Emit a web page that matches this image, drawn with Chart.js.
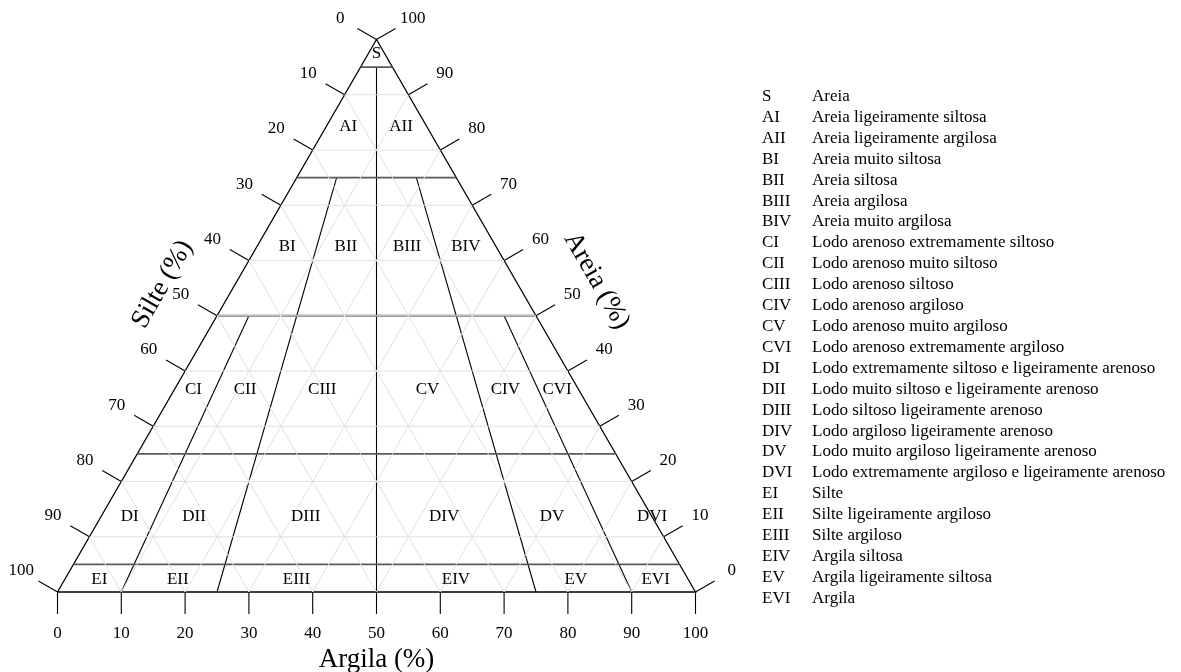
<!DOCTYPE html>
<html lang="pt">
<head>
<meta charset="UTF-8">
<title>Diagrama ternário - Argila, Silte, Areia</title>
<script src="https://cdn.jsdelivr.net/npm/chart.js"></script>
<style>
    body { margin: 0; background: #fff; }
    #wrap { position: relative; width: 1181px; height: 672px; }
    #legend {
        position: absolute; left: 762px; top: 86px;
        font-family: "Liberation Serif", "Times New Roman", serif;
        font-size: 17px; line-height: 20.9px; color: #000;
    }
    #legend .ab { display: inline-block; width: 50px; }
</style>
</head>
<body>
<div id="wrap">
    <canvas id="ternary" width="1181" height="672"></canvas>
    <div id="legend"></div>
</div>
<script>
// tick values on the three sides (%)
var tickValues = [0, 10, 20, 30, 40, 50, 60, 70, 80, 90, 100];
var gridSteps = [10, 20, 30, 40, 50, 60, 70, 80, 90];

// class limits: sand levels and clay/(silt+clay) ratios
var sandLimits = [95, 75, 50, 25, 5];
var clayRatios = [0.5, 0.25, 0.75, 0.1, 0.9];
var ratioTops  = [95, 75, 75, 50, 50];

// classes
var classCodes = ["S", "AI", "AII", "BI", "BII", "BIII", "BIV", "CI", "CII", "CIII", "CIV", "CV", "CVI",
    "DI", "DII", "DIII", "DIV", "DV", "DVI", "EI", "EII", "EIII", "EIV", "EV", "EVI"];
var classNames = ["Areia", "Areia ligeiramente siltosa", "Areia ligeiramente argilosa", "Areia muito siltosa",
    "Areia siltosa", "Areia argilosa", "Areia muito argilosa", "Lodo arenoso extremamente siltoso",
    "Lodo arenoso muito siltoso", "Lodo arenoso siltoso", "Lodo arenoso argiloso", "Lodo arenoso muito argiloso",
    "Lodo arenoso extremamente argiloso", "Lodo extremamente siltoso e ligeiramente arenoso",
    "Lodo muito siltoso e ligeiramente arenoso", "Lodo siltoso ligeiramente arenoso",
    "Lodo argiloso ligeiramente arenoso", "Lodo muito argiloso ligeiramente arenoso",
    "Lodo extremamente argiloso e ligeiramente arenoso", "Silte", "Silte ligeiramente argiloso",
    "Silte argiloso", "Argila siltosa", "Argila ligeiramente siltosa", "Argila"];
// where each code sits inside the triangle (sand %, clay %)
var labelSand = [97.4, 84.3, 84.3, 62.6, 62.6, 62.6, 62.6, 36.6, 36.6, 36.6, 36.6, 36.6, 36.6,
    13.6, 13.6, 13.6, 13.6, 13.6, 13.6, 2.3, 2.3, 2.3, 2.3, 2.3, 2.3];
var labelClay = [1.3, 3.4, 11.7, 4.7, 13.9, 23.5, 32.7, 3.0, 11.1, 23.2, 51.9, 39.7, 60.0,
    4.5, 14.6, 32.1, 53.8, 70.7, 86.4, 5.4, 17.7, 36.3, 61.3, 80.1, 92.6];

// ternary (sand, clay) -> cartesian
function pt(sand, clay) {
    return { x: clay + sand / 2, y: sand };
}

function lineSet(a, b, color, width) {
    return {
        data: [a, b], showLine: true, pointRadius: 0, borderColor: color,
        borderWidth: width, clip: false, fill: false
    };
}

var datasets = [];
gridSteps.forEach(function (k) {
    datasets.push(lineSet(pt(k, 0), pt(k, 100 - k), "#e0e0e0", 1));        // sand constant
    datasets.push(lineSet(pt(0, k), pt(100 - k, k), "#e0e0e0", 1));        // clay constant
    datasets.push(lineSet(pt(0, 100 - k), pt(100 - k, 0), "#e0e0e0", 1));  // silt constant
});
sandLimits.forEach(function (s) {
    datasets.push(lineSet(pt(s, 0), pt(s, 100 - s), "#5a5a5a", 1.8));
});
clayRatios.forEach(function (r, i) {
    var top = ratioTops[i];
    datasets.push(lineSet(pt(top, r * (100 - top)), pt(0, r * 100), "#000", 1.1));
});
datasets.push({
    data: [pt(0, 0), pt(0, 100), pt(100, 0), pt(0, 0)], showLine: true, pointRadius: 0,
    borderColor: "#000", borderWidth: 1.3, clip: false, fill: false
});

var serif = '"Liberation Serif", "Times New Roman", serif';
var c30 = Math.cos(Math.PI / 6), s30 = 0.5;

var decorations = {
    id: "decorations",
    afterDatasetsDraw: function (chart) {
        var ctx = chart.ctx;
        var xs = chart.scales.x, ys = chart.scales.y;
        function px(p) { return [xs.getPixelForValue(p.x), ys.getPixelForValue(p.y)]; }
        ctx.save();
        ctx.strokeStyle = "#000";
        ctx.lineWidth = 1.1;
        ctx.fillStyle = "#000";
        ctx.font = "17px " + serif;
        ctx.textAlign = "center";
        ctx.textBaseline = "middle";

        function tick(p, dx, dy, txt) {
            var q = px(p);
            ctx.beginPath();
            ctx.moveTo(q[0], q[1]);
            ctx.lineTo(q[0] + dx * 22, q[1] + dy * 22);
            ctx.stroke();
            ctx.fillText(txt, q[0] + dx * 42, q[1] + dy * 42);
        }
        tickValues.forEach(function (v) {
            tick(pt(100 - v, 0), -c30, -s30, String(v));   // Silte
            tick(pt(0, v), 0, 1, String(v));                 // Argila
            tick(pt(v, 100 - v), c30, -s30, String(v));     // Areia
        });

        // class codes
        classCodes.forEach(function (code, i) {
            var q = px(pt(labelSand[i], labelClay[i]));
            ctx.fillText(code, q[0], q[1]);
        });

        // axis titles
        ctx.font = "27px " + serif;
        var b = px(pt(0, 50));
        ctx.fillText("Argila (%)", b[0], b[1] + 68);

        var l = px(pt(50, 0));
        ctx.save();
        ctx.translate(l[0] - c30 * 63, l[1] - s30 * 63);
        ctx.rotate(-Math.PI / 3);
        ctx.fillText("Silte (%)", 0, 0);
        ctx.restore();

        var r = px(pt(50, 50));
        ctx.save();
        ctx.translate(r[0] + c30 * 70, r[1] - s30 * 70);
        ctx.rotate(Math.PI / 3);
        ctx.fillText("Areia (%)", 0, 0);
        ctx.restore();

        ctx.restore();
    }
};

new Chart(document.getElementById("ternary"), {
    type: "scatter",
    data: { datasets: datasets },
    options: {
        responsive: false,
        animation: false,
        events: [],
        layout: { padding: { left: 57.5, right: 485.5, top: 39.5, bottom: 80 } },
        scales: {
            x: { type: "linear", min: 0, max: 100, display: false },
            y: { type: "linear", min: 0, max: 100, display: false }
        },
        plugins: { legend: { display: false }, tooltip: { enabled: false } }
    },
    plugins: [decorations]
});

// legend list
var legend = document.getElementById("legend");
classCodes.forEach(function (code, i) {
    var row = document.createElement("div");
    row.innerHTML = '<span class="ab">' + code + '</span>' + classNames[i];
    legend.appendChild(row);
});
</script>
</body>
</html>
